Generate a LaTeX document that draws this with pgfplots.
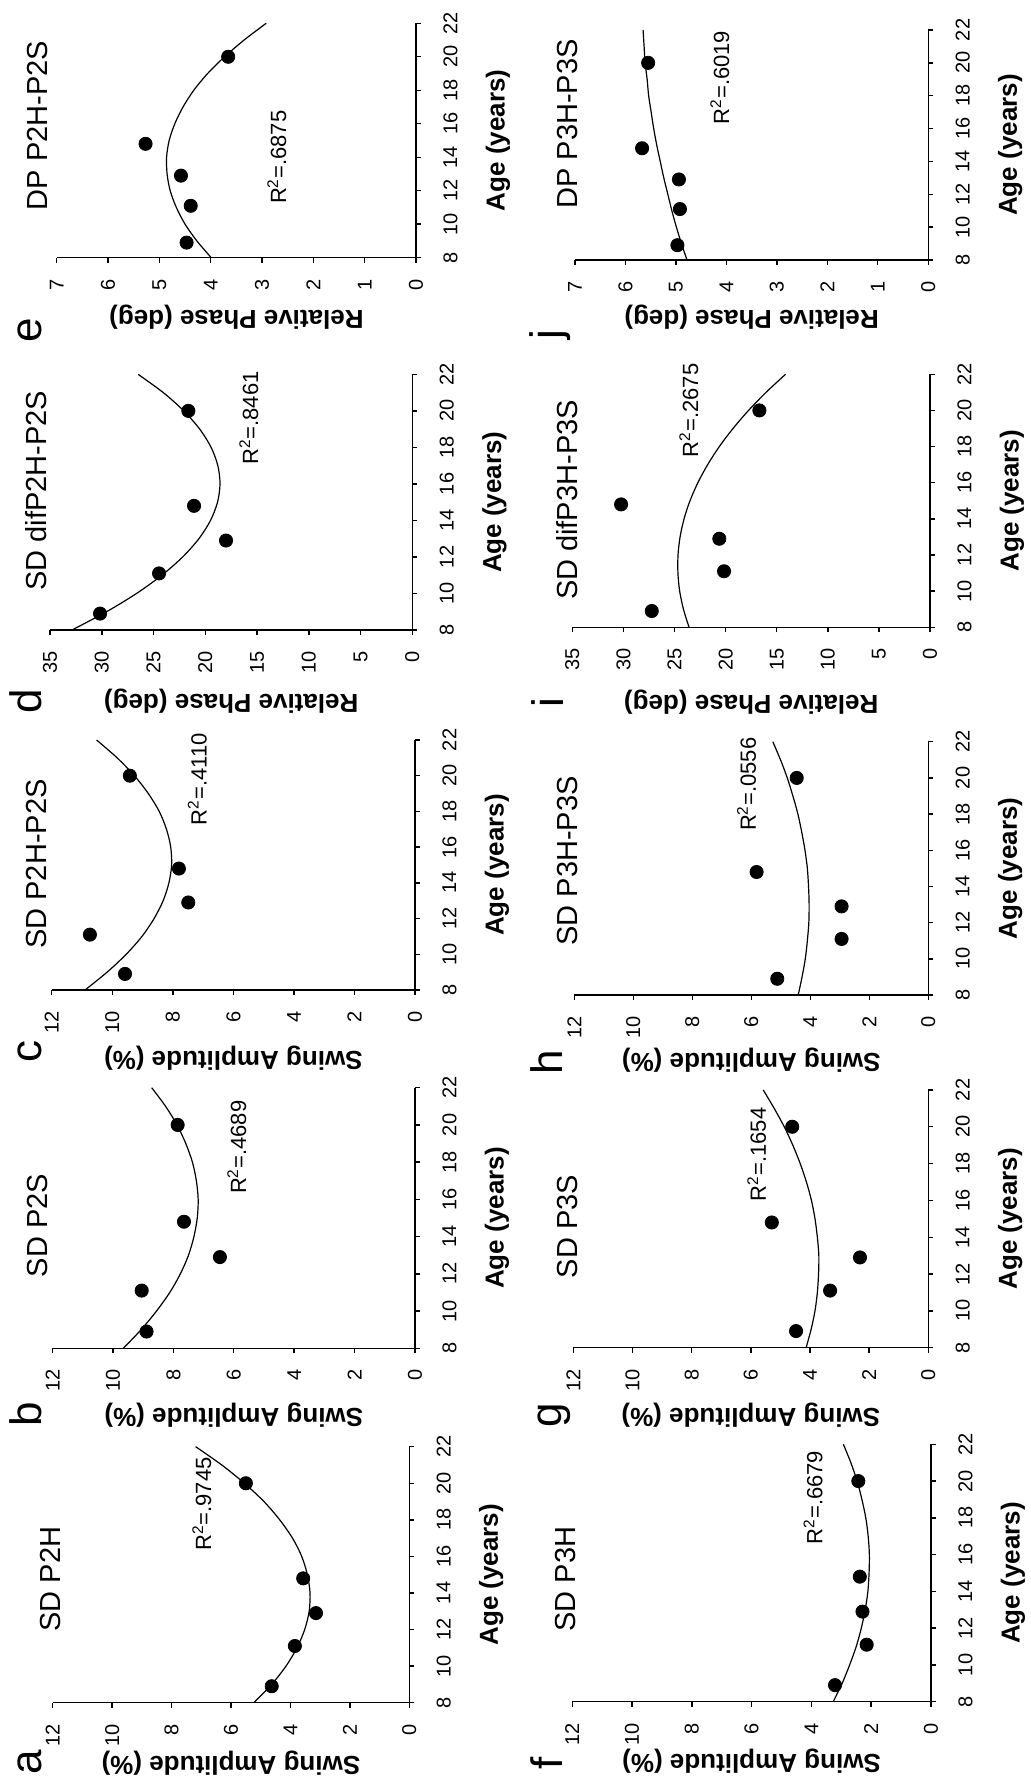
\documentclass[border=0pt]{standalone}
\usepackage{fontspec}
\setmainfont{Liberation Sans}
\usepackage{pgfplots}
\pgfplotsset{compat=1.18}

\newcommand{\tickfont}{\fontsize{10}{10}\selectfont}
\newcommand{\labfont}{\fontsize{13}{13}\selectfont\bfseries}
\newcommand{\titfont}{\fontsize{14.5}{14.5}\selectfont}
\newcommand{\rfont}{\fontsize{11}{11}\selectfont}
\newcommand{\letfont}{\fontsize{22}{22}\selectfont}

\pgfplotsset{
  panel/.style={
    scale only axis, anchor=center, clip=false,
    x dir=reverse, ymin=8, ymax=22, ytick={8,10,...,22},
    axis x line*=bottom, axis y line*=right,
    axis line style={-, line width=0.7pt},
    tick align=outside, major tick length=2.5pt,
    tick style={line width=0.7pt, black},
    /pgf/number format/assume math mode=true,
    xticklabel style={font=\tickfont, inner sep=0pt, yshift=-8pt, rotate=90, anchor=east},
    yticklabel style={font=\tickfont, inner sep=0pt, xshift=11pt, rotate=90, anchor=north},
    ylabel={Age (years)},
    every axis y label/.style={at={(axis cs:0,15)}, xshift=41pt, rotate=90, anchor=center, font=\labfont},
  },
  amp/.style={xmin=0, xmax=12, xtick={0,2,...,12}, xlabel={Swing Amplitude (\%)}},
  ph35/.style={xmin=0, xmax=35, xtick={0,5,...,35}, xlabel={Relative Phase (deg)}},
  ph7/.style={xmin=0, xmax=7, xtick={0,1,...,7}, xlabel={Relative Phase (deg)}},
  xlab/.style 2 args={every axis x label/.style={at={(axis cs:#1,8)}, yshift=-#2, rotate=180, anchor=center, font=\labfont}},
  dots/.style={only marks, mark=*, mark size=3.3pt, black},
  fit/.style={smooth, black, line width=0.6pt, mark=none},
}

\begin{document}
\begin{tikzpicture}
\path[use as bounding box] (0,0) rectangle (515.5pt,891pt);

% ---------- a: SD P2H ----------
\begin{axis}[panel, amp, xlab={6}{30.3pt}, at={(115.5pt,103.65pt)}, width=178.3pt, height=128pt]
\addplot[fit] coordinates {(5.23,8) (4.63,9) (4.15,10) (3.78,11) (3.52,12) (3.37,13) (3.34,14) (3.43,15) (3.62,16) (3.93,17) (4.36,18) (4.89,19) (5.55,20) (6.31,21) (7.19,22)};
\addplot[dots] coordinates {(4.63,8.9) (3.85,11.1) (3.14,12.9) (3.57,14.8) (5.50,20.0)};
\node[rotate=90, font=\titfont] at (axis cs:12.09,14.76) {SD P2H};
\node[rotate=90, font=\letfont] at (axis cs:12.76,4.76) {a};
\node[rotate=90, font=\rfont] at (axis cs:6.98,18.86) {R\textsuperscript{2}=.9745};
\end{axis}

% ---------- b: SD P2S ----------
\begin{axis}[panel, amp, xlab={6}{33.3pt}, at={(116.9pt,282pt)}, width=181.15pt, height=130.3pt]
\addplot[fit] coordinates {(9.66,8) (9.07,9) (8.56,10) (8.12,11) (7.77,12) (7.50,13) (7.32,14) (7.21,15) (7.18,16) (7.24,17) (7.37,18) (7.59,19) (7.88,20) (8.26,21) (8.72,22)};
\addplot[dots] coordinates {(8.89,8.9) (9.05,11.1) (6.46,12.9) (7.65,14.8) (7.86,20.0)};
\node[rotate=90, font=\titfont] at (axis cs:12.49,14.59) {SD P2S};
\node[rotate=90, font=\letfont] at (axis cs:12.88,4.47) {b};
\node[rotate=90, font=\rfont] at (axis cs:5.9,18.8) {R\textsuperscript{2}=.4689};
\end{axis}

% ---------- c: SD P2H-P2S ----------
\begin{axis}[panel, amp, xlab={6}{34.2pt}, at={(116.7pt,458.5pt)}, width=181.65pt, height=125pt]
\addplot[fit] coordinates {(10.90,8) (10.17,9) (9.54,10) (9.02,11) (8.62,12) (8.32,13) (8.13,14) (8.04,15) (8.07,16) (8.21,17) (8.45,18) (8.81,19) (9.27,20) (9.84,21) (10.52,22)};
\addplot[dots] coordinates {(9.58,8.9) (10.74,11.1) (7.49,12.9) (7.80,14.8) (9.42,20.0)};
\node[rotate=90, font=\titfont] at (axis cs:12.5,15.05) {SD P2H-P2S};
\node[rotate=90, font=\letfont] at (axis cs:12.72,4.55) {c};
\node[rotate=90, font=\rfont] at (axis cs:7.19,19.8) {R\textsuperscript{2}=.4110};
\end{axis}

% ---------- d: SD difP2H-P2S ----------
\begin{axis}[panel, ph35, xlab={17.5}{35.8pt}, at={(115.6pt,639.9pt)}, width=181.15pt, height=127.85pt]
\addplot[fit] coordinates {(32.89,8) (29.55,9) (26.65,10) (24.20,11) (22.19,12) (20.62,13) (19.50,14) (18.82,15) (18.58,16) (18.79,17) (19.44,18) (20.54,19) (22.08,20) (24.06,21) (26.49,22)};
\addplot[dots] coordinates {(30.17,8.9) (24.47,11.1) (18.0,12.9) (21.09,14.8) (21.64,20.0)};
\node[rotate=90, font=\titfont] at (axis cs:36.3,15.63) {SD difP2H-P2S};
\node[rotate=90, font=\letfont] at (axis cs:37.32,4.11) {d};
\node[rotate=90, font=\rfont] at (axis cs:15.8,19.6) {R\textsuperscript{2}=.8461};
\end{axis}

% ---------- e: DP P2H-P2S ----------
\begin{axis}[panel, ph7, xlab={3.5}{29.5pt}, at={(118.2pt,820.75pt)}, width=179.65pt, height=117.2pt]
\addplot[fit] coordinates {(3.99,8) (4.27,9) (4.50,10) (4.67,11) (4.79,12) (4.85,13) (4.86,14) (4.81,15) (4.70,16) (4.54,17) (4.33,18) (4.06,19) (3.73,20) (3.35,21) (2.92,22)};
\addplot[dots] coordinates {(4.47,8.9) (4.39,11.1) (4.58,12.9) (5.27,14.8) (3.66,20.0)};
\node[rotate=90, font=\titfont] at (axis cs:7.37,15.89) {DP P2H-P2S};
\node[rotate=90, font=\letfont] at (axis cs:7.52,3.68) {e};
\node[rotate=90, font=\rfont] at (axis cs:2.71,14.0) {R\textsuperscript{2}=.6875};
\end{axis}

% ---------- f: SD P3H ----------
\begin{axis}[panel, amp, xlab={6}{29.5pt}, at={(375.8pt,104.5pt)}, width=179.35pt, height=128.7pt]
\addplot[fit] coordinates {(3.27,8) (2.97,9) (2.72,10) (2.50,11) (2.33,12) (2.20,13) (2.11,14) (2.07,15) (2.06,16) (2.10,17) (2.18,18) (2.31,19) (2.47,20) (2.68,21) (2.93,22)};
\addplot[dots] coordinates {(3.21,8.9) (2.15,11.1) (2.29,12.9) (2.38,14.8) (2.43,20.0)};
\node[rotate=90, font=\titfont] at (axis cs:12.22,14.67) {SD P3H};
\node[rotate=90, font=\letfont] at (axis cs:12.85,4.67) {f};
\node[rotate=90, font=\rfont] at (axis cs:3.94,19.1) {R\textsuperscript{2}=.6679};
\end{axis}

% ---------- g: SD P3S ----------
\begin{axis}[panel, amp, xlab={6}{34pt}, at={(375.4pt,281.6pt)}, width=177.5pt, height=128.85pt]
\addplot[fit] coordinates {(4.13,8) (3.96,9) (3.83,10) (3.75,11) (3.71,12) (3.70,13) (3.75,14) (3.83,15) (3.95,16) (4.12,17) (4.33,18) (4.58,19) (4.87,20) (5.21,21) (5.58,22)};
\addplot[dots] coordinates {(4.47,8.9) (3.32,11.1) (2.31,12.9) (5.29,14.8) (4.60,20.0)};
\node[rotate=90, font=\titfont] at (axis cs:12.2,14.57) {SD P3S};
\node[rotate=90, font=\letfont] at (axis cs:12.65,4.34) {g};
\node[rotate=90, font=\rfont] at (axis cs:5.8,18.5) {R\textsuperscript{2}=.1654};
\end{axis}

% ---------- h: SD P3H-P3S ----------
\begin{axis}[panel, amp, xlab={6}{32.8pt}, at={(375.65pt,456.8pt)}, width=177pt, height=126.65pt]
\addplot[fit] coordinates {(4.41,8) (4.28,9) (4.17,10) (4.10,11) (4.05,12) (4.04,13) (4.06,14) (4.10,15) (4.18,16) (4.29,17) (4.42,18) (4.59,19) (4.78,20) (5.01,21) (5.27,22)};
\addplot[dots] coordinates {(5.12,8.9) (2.94,11.1) (2.94,12.9) (5.82,14.8) (4.46,20.0)};
\node[rotate=90, font=\titfont] at (axis cs:12.23,15.42) {SD P3H-P3S};
\node[rotate=90, font=\letfont] at (axis cs:12.93,4.27) {h};
\node[rotate=90, font=\rfont] at (axis cs:6.16,19.65) {R\textsuperscript{2}=.0556};
\end{axis}

% ---------- i: SD difP3H-P3S ----------
\begin{axis}[panel, ph35, xlab={17.5}{37.5pt}, at={(375.6pt,640.6pt)}, width=178.85pt, height=126.5pt]
\addplot[fit] coordinates {(23.58,8) (24.13,9) (24.50,10) (24.67,11) (24.66,12) (24.46,13) (24.07,14) (23.49,15) (22.72,16) (21.76,17) (20.62,18) (19.28,19) (17.76,20) (16.05,21) (14.14,22)};
\addplot[dots] coordinates {(27.23,8.9) (20.16,11.1) (20.62,12.9) (30.23,14.8) (16.7,20.0)};
\node[rotate=90, font=\titfont] at (axis cs:35.47,15.04) {SD difP3H-P3S};
\node[rotate=90, font=\letfont] at (axis cs:37.38,3.81) {i};
\node[rotate=90, font=\rfont] at (axis cs:23.6,20.0) {R\textsuperscript{2}=.2675};
\end{axis}

% ---------- j: DP P3H-P3S ----------
\begin{axis}[panel, ph7, xlab={3.5}{28.7pt}, at={(375.8pt,818.5pt)}, width=176.65pt, height=115pt]
\addplot[fit] coordinates {(4.78,8) (4.89,9) (4.99,10) (5.08,11) (5.16,12) (5.24,13) (5.31,14) (5.38,15) (5.44,16) (5.49,17) (5.54,18) (5.57,19) (5.61,20) (5.63,21) (5.65,22)};
\addplot[dots] coordinates {(4.97,8.9) (4.92,11.1) (4.94,12.9) (5.67,14.8) (5.55,20.0)};
\node[rotate=90, font=\titfont] at (axis cs:7.15,16.28) {DP P3H-P3S};
\node[rotate=90, font=\letfont] at (axis cs:7.5,3.44) {j};
\node[rotate=90, font=\rfont] at (axis cs:4.13,19.1) {R\textsuperscript{2}=.6019};
\end{axis}
\end{tikzpicture}
\end{document}
